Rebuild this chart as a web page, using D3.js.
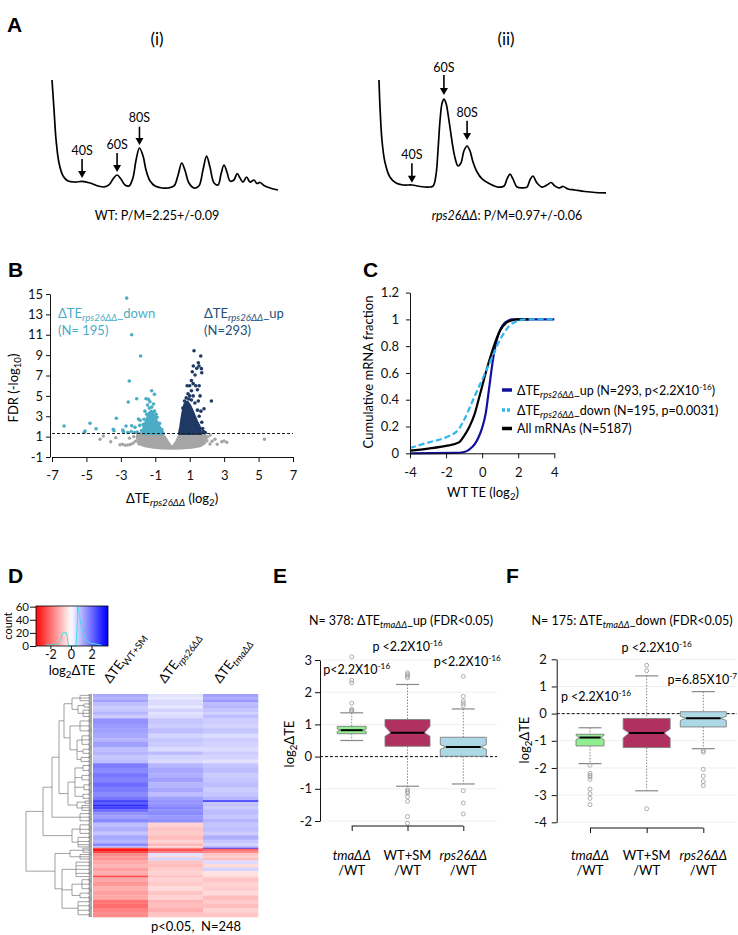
<!DOCTYPE html>
<html><head><meta charset="utf-8">
<script src="https://cdn.jsdelivr.net/npm/d3@7"></script>
<style>
html,body{margin:0;padding:0;background:#fff;}
svg{display:block;}
</style></head><body>
<svg id="fig" width="738" height="935"></svg>
<script>
// ================= DATA =================
// Panel A: polysome profiles (x = position in gradient 0-100, y = A254, arbitrary units)
const profileWT = [[0,100],[0.9,73.2],[1.8,46.4],[3.1,25.9],[4.9,14.3],[7.1,9.8],[10.2,8.9],[13.3,9.4],[16.8,8.0],[20.4,5.4],[23.0,4.5],[25.2,6.3],[27.0,11.6],[28.8,15.2],[30.5,11.6],[32.3,6.3],[34.1,5.4],[35.8,12.5],[37.2,28.6],[38.7,39.3],[40.3,32.1],[41.6,19.6],[43.4,9.8],[45.6,5.4],[48.7,3.6],[51.3,3.6],[54.0,5.4],[55.8,15.2],[57.4,25.9],[58.8,19.6],[60.6,8.0],[62.8,3.6],[65.0,5.4],[66.8,19.6],[68.4,32.1],[69.9,22.3],[71.7,8.0],[73.5,6.3],[74.8,16.1],[76.1,24.1],[77.4,17.9],[78.8,9.8],[80.5,10.7],[81.9,16.5],[83.2,12.5],[84.5,8.9],[86.1,13.4],[87.6,8.9],[89.4,10.7],[90.7,7.6],[92.0,8.5],[93.8,5.8],[96.5,3.6],[100,1.8]];
const profileRps26 = [[0,100],[0.4,78.1],[1.3,47.4],[2.6,28.1],[4.8,14.9],[7.5,9.6],[10.6,7.9],[14.5,7.9],[18.1,6.6],[21.6,6.1],[23.8,7.0],[25.1,16.7],[26.0,38.6],[26.9,64.9],[27.8,79.8],[28.6,83.3],[29.5,79.8],[30.8,64.9],[32.2,45.6],[33.5,31.6],[34.8,24.6],[36.1,27.2],[37.4,37.7],[38.8,42.1],[40.1,37.7],[41.4,28.1],[43.2,19.3],[45.4,13.2],[48.9,8.8],[52.4,6.1],[55.1,7.0],[56.4,13.2],[57.7,17.5],[59.0,13.2],[60.8,6.1],[63.0,5.3],[65.2,6.1],[66.5,12.3],[67.8,15.8],[69.6,9.6],[71.8,6.1],[74.0,7.9],[75.8,10.1],[77.5,7.0],[79.3,5.3],[81.1,6.6],[83.3,4.4],[86.3,3.5],[90.7,2.2],[95.2,1.3],[100,0.9]];
const peakLabels = ['40S','60S','80S'];
const peakPosWT = [13.3, 28.8, 38.7];
const peakArrowTailWT = [29.5, 34.8, 58.3];
const peakArrowTipWT = [12.5, 17.9, 42.0];
const peakLabelYWT = [33.0, 38.4, 62.8];
const peakPosRps26 = [14.5, 28.6, 38.8];
const peakArrowTailRps26 = [26.9, 104.4, 64.3];
const peakArrowTipRps26 = [9.9, 86.8, 47.4];
const peakLabelYRps26 = [30.4, 107.3, 67.3];

// Panel B: volcano plot (x = dTE log2, y = FDR -log10)
const volcanoGrayCloud = [[-2.0,1.3],[-0.62,1.3],[-0.48,1.0],[-0.33,0.6],[-0.18,0.2],[-0.04,-0.08],[0.1,0.15],[0.25,0.55],[0.38,1.0],[0.46,1.3],[1.85,1.3],[1.95,0.9],[1.85,0.35],[1.6,0.1],[1.1,-0.05],[0.5,-0.12],[0,-0.15],[-0.6,-0.12],[-1.1,-0.05],[-1.6,0.1],[-1.95,0.35],[-2.05,0.9]];
const volcanoDownCloud = [[-1.7,1.3],[-1.66,2.0],[-1.5,2.6],[-1.35,3.3],[-1.22,3.5],[-1.08,3.1],[-0.95,2.6],[-0.78,2.0],[-0.6,1.5],[-0.53,1.3]];
const volcanoUpCloud = [[0.4,1.3],[0.48,2.0],[0.55,2.8],[0.63,3.6],[0.72,4.2],[0.85,4.4],[0.98,4.1],[1.1,3.7],[1.25,3.1],[1.4,2.5],[1.55,2.0],[1.65,1.3]];
const volcanoGray = [[-4.21,0.74],[-4.02,1.06],[-3.59,0.50],[-3.05,0.2],[-2.9,0.25],[-2.75,0.15],[-2.6,0.18],[-2.45,0.22],[-2.3,0.35],[-2.15,0.55],[-2.5,0.85],[-2.25,1.0],[-3.3,0.9],[-2.0,1.15],[2.05,1.0],[2.0,0.6],[2.18,0.28],[2.3,0.55],[2.47,0.74],[2.6,0.25],[2.86,0.5],[2.99,0.58],[3.15,0.45],[5.34,0.74],[2.2,1.15],[-1.95,0.3]];
const volcanoDown = [[-6.30,2.04],[-4.79,2.31],[-5.08,1.55],[-5.12,1.42],[-4.44,1.78],[-3.26,2.80],[-3.44,1.72],[-3.40,1.58],[-2.89,1.65],[-2.85,1.50],[-2.70,2.04],[-2.37,2.07],[-2.51,6.46],[-2.57,4.40],[-2.08,4.72],[-1.85,8.91],[-1.54,4.72],[-1.40,4.66],[-1.21,5.51],[-1.05,5.15],[-1.31,4.43],[-1.98,2.73],[-1.88,2.60],[-2.18,1.91],[-2.20,1.40],[-2.05,1.45],[-2.37,11.0],[-2.66,14.6],[-1.9,2.1],[-1.8,1.6],[-1.65,2.7],[-1.5,3.2],[-1.35,3.8],[-1.2,3.9],[-1.05,3.5],[-0.9,2.9],[-0.75,2.3],[-0.62,1.7],[-1.45,4.1],[-1.1,4.2],[-1.6,3.5],[-0.95,3.2],[-2.4,1.5],[-2.6,1.4],[-1.7,2.2]];
const volcanoUp = [[0.8,4.8],[0.9,5.2],[1.0,5.0],[1.1,5.5],[0.85,6.0],[1.0,6.0],[1.2,6.2],[1.35,6.0],[1.1,6.5],[1.15,7.37],[1.31,7.05],[1.7,7.27],[1.21,7.93],[1.41,7.7],[1.5,8.25],[1.54,7.93],[1.68,7.67],[1.64,8.91],[1.25,9.43],[2.26,4.5],[1.83,3.74],[1.7,2.41],[1.75,1.8],[1.8,1.5],[1.9,1.4],[1.55,3.0],[1.45,3.6],[1.3,4.3],[1.5,4.5],[1.6,5.0],[1.2,5.0],[0.7,4.5],[0.6,3.8],[1.1,4.6],[0.95,4.7],[1.45,5.6],[1.55,6.0],[1.65,3.5],[1.4,1.9]];
const volcanoFdrCut = 1.3;
const volcanoXTicks = [-7,-5,-3,-1,1,3,5,7];
const volcanoYTicks = [-1,1,3,5,7,9,11,13,15];

// Panel C: cumulative distributions of WT TE (log2)
const cdfUpX = [-4,-1.5,-1,-0.7,-0.4,-0.2,0,0.2,0.4,0.6,0.8,1,1.3,1.7,4];
const cdfUpY = [0,0.003,0.01,0.03,0.07,0.12,0.19,0.3,0.5,0.7,0.84,0.92,0.98,1,1];
const cdfDownX = [-4,-3,-2,-1.3,-1,-0.5,0,0.5,1,1.5,2,2.5,4];
const cdfDownY = [0.04,0.08,0.12,0.18,0.25,0.4,0.55,0.7,0.85,0.95,0.99,1,1];
const cdfAllX = [-4,-3,-2,-1.3,-1,-0.7,-0.4,-0.2,0,0.3,0.6,1,1.3,1.7,2,2.6];
const cdfAllY = [0.02,0.035,0.055,0.08,0.13,0.2,0.3,0.4,0.5,0.65,0.78,0.92,0.97,0.995,1,1];
const cdfXTicks = [-4,-2,0,2,4];
const cdfYTicks = [0,0.2,0.4,0.6,0.8,1,1.2];

// Panel D: heatmap of log2 dTE (row blocks, top to bottom)
const heatCols = ['WT+SM','rps26ΔΔ','tmaΔΔ'];
const heatBandRows = [3,3,3, 4,3,4,3,4, 6,5,6,5,4,6,5,4,5,4, 5,6,5,5,6,5,5,4, 2,3,2,3,3, 4,4,4, 5,5,4,5,4,3,2, 1,3,2, 3,2,3, 4,4,4,5, 2, 5,5,5,5,5, 4,5,5,5];
const heatWTSM  = [1.2,1.0,1.3, 0.9,0.7,0.8,1.0,0.7, 1.5,1.4,1.3,1.2,1.0,1.3,0.9,1.0,0.8,0.9, 1.8,1.6,1.9,1.7,2.0,1.8,1.6,1.9, 2.6,2.2,2.9,2.6,2.0, 1.5,1.3,1.6, 0.9,1.1,0.8,1.2,1.0,1.6,0.9, -2.2,-3.2,-2.6, -1.6,-1.3,-1.5, -1.2,-1.0,-1.3,-1.1, -2.4, -1.2,-1.4,-1.1,-1.3,-1.2, -1.9,-2.0,-1.7,-1.6];
const heatRps26 = [0.4,0.3,0.5, 0.5,0.3,0.6,0.4,0.5, 0.8,0.7,0.9,0.6,0.8,0.7,0.5,0.9,0.6,0.5, 1.0,1.2,1.1,1.3,1.0,1.2,0.9,1.3, 1.5,1.4,1.6,1.7,1.5, 1.6,1.4,1.5, -0.6,-0.8,-0.7,-0.9,-0.6,-1.0,-0.5, -1.5,-2.3,-1.8, 0.4,-0.5,0.6, -0.8,-0.9,-0.7,-0.6, -0.9, -0.6,-0.7,-0.5,-0.8,-0.6, -1.0,-0.9,-1.1,-0.8];
const heatTma   = [1.3,1.1,1.4, 0.9,1.0,0.8,0.6,0.9, 0.7,0.6,0.8,0.5,0.7,0.6,0.5,0.7,0.6,0.4, 0.8,0.9,0.7,0.8,0.9,0.7,0.8,1.0, 2.5,0.8,0.9,0.7,0.9, 0.9,0.8,1.0, 0.8,0.9,0.7,1.1,0.8,0.6,0.9, 2.8,-2.0,-1.6, -0.8,-0.6,-0.9, 0.5,-0.5,0.6,-0.4, -0.5, -0.8,-0.6,-0.7,-0.5,-0.9, -0.7,-0.9,-0.6,-0.8];
// row dendrogram: [mergeHeight, children...]; leaves are row-block indices
const heatDendro = [66,
  [49,
    [40,
      [33,
        [28, [20, [12,0,1,2], [14,[8,3,4],[9,5,6,7]]], [22, [12,8,9,10], [15,[10,11,12,13],[9,14,15],[11,16,17]]]],
        [24, [17,[9,18,19],[10,20,21],[8,22,23],[9,24,25]], [15,[7,26,27],[10,28,29,30]]]
      ],
      [12,31,32,33]
    ],
    [20, [12,34,35,36], [14,37,38,39,40]]
  ],
  [37,
    [22, [9,41,42,43], [12,44,45,46]],
    [30, [16,47,48,49,50,51], [20,[10,52,53,54],[12,55,56]], [14,57,58,59,60]]
  ]
];
const keyHistX = [-2.5,-2.37,-2.0,-1.6,-1.23,-1.0,-0.85,-0.74,-0.55,-0.42,-0.3,-0.26,0.49,0.6,0.65,0.75,0.88,1.05,1.2,1.4,1.59,2.0,2.4,2.82,2.98];
const keyHistCount = [0,2,1.5,2.5,3,8,18,21,20,20,5,0,0,30,60,55,40,28,20,12,7,4,3,2,0];
const keyXTicks = [-2,0,2];
const keyYTicks = [0,20,40,60];

// Panels E and F: boxplots of log2 dTE
const boxGroups = ['tmaΔΔ','WT+SM','rps26ΔΔ'];
const eQ1 = [0.71,0.32,0.01], eMed = [0.82,0.74,0.30], eQ3 = [0.94,1.15,0.60];
const eLo = [0.50,-0.92,-0.85], eHi = [1.36,2.24,1.48];
const eNotchLo = [0.78,0.63,0.23], eNotchHi = [0.86,0.94,0.37];
const eOut = [[1.40,1.43,1.47,1.66,2.29,2.37,3.1],[2.45,2.5,2.55,2.6,-1.03,-1.08,-1.13,-1.24,-1.39,-1.86,-2.07],[1.58,1.65,1.72,1.87,2.49,-1.06,-1.44,-1.78]];
const ePLabel = ['p<2.2X10','p <2.2X10','p<2.2X10'], ePExp = ['-16','-16','-16'], ePLabelY = [2.57,3.29,2.81];
const eYTicks = [-2,-1,0,1,2,3];
const fQ1 = [-1.19,-1.25,-0.49], fMed = [-0.88,-0.71,-0.17], fQ3 = [-0.76,-0.18,0.07];
const fLo = [-1.84,-2.84,-1.29], fHi = [-0.52,1.39,0.81];
const fNotchLo = [-0.96,-0.9,-0.25], fNotchHi = [-0.80,-0.57,-0.10];
const fOut = [[-1.9,-2.2,-2.27,-2.33,-2.42,-2.78,-2.95,-3.12,-3.35],[1.58,1.78,-3.5],[-1.36,-1.42,-2.05,-2.3,-2.5,-2.65]];
const fPLabel = ['p <2.2X10','p <2.2X10','p=6.85X10'], fPExp = ['-16','-16','-7'], fPLabelY = [0.47,2.28,1.10];
const fYTicks = [-4,-3,-2,-1,0,1,2];

// ================= DRAWING =================
const FONT = "Lato, 'Open Sans', 'DejaVu Sans', sans-serif";
const svg = d3.select('#fig').attr('font-family', FONT);
svg.append('rect').attr('width',738).attr('height',935).attr('fill','#fff');
const fmt = d => d3.format('~g')(d).replace('\u2212', '-');

// rich text on one line; parts are strings or [text, style]
function rich(parent, parts, size, attrs) {
  const t = parent.append('text').attr('font-size', size);
  Object.entries(attrs || {}).forEach(([k, v]) => t.attr(k, v));
  let cur = 0;
  parts.forEach(p => {
    const s = Array.isArray(p) ? p[0] : p;
    const st = Array.isArray(p) ? (p[1] || '') : '';
    const ts = t.append('tspan').text(s);
    let off = 0;
    if (st.includes('sub')) { off = size * 0.25; ts.attr('font-size', size * 0.74); }
    else if (st.includes('sup')) { off = -size * 0.38; ts.attr('font-size', size * 0.66); }
    if (st.includes('it')) ts.attr('font-style', 'italic');
    if (off - cur !== 0) ts.attr('dy', off - cur);
    cur = off;
  });
  return t;
}
function panelLetter(x, y, s) {
  svg.append('text').attr('x', x).attr('y', y).attr('font-size', 21).attr('font-weight', 'bold')
    .attr('font-family', "'Liberation Sans', Arial, sans-serif").text(s);
}
function styleAxis(g, size) {
  g.selectAll('text').attr('font-size', size).attr('font-family', FONT).attr('fill', '#111');
  g.selectAll('line').attr('stroke', '#111');
  g.select('.domain').attr('stroke', '#111');
}

// ---------- Panel A ----------
panelLetter(7, 32, 'A');
function drawProfile(data, xr, yr, pos, tail, tip, labY) {
  const x = d3.scaleLinear([0, 100], xr), y = d3.scaleLinear([0, 100], yr);
  svg.append('path').datum(data)
    .attr('d', d3.line().x(d => x(d[0])).y(d => y(d[1])).curve(d3.curveCatmullRom.alpha(0.5)))
    .attr('fill', 'none').attr('stroke', '#000').attr('stroke-width', 1.7);
  peakLabels.forEach((lab, i) => {
    const px = x(pos[i]), yt = y(tail[i]), yp = y(tip[i]);
    svg.append('line').attr('x1', px).attr('x2', px).attr('y1', yt).attr('y2', yp - 6)
      .attr('stroke', '#000').attr('stroke-width', 1.6);
    svg.append('path').attr('d', `M${px - 4},${yp - 7}L${px + 4},${yp - 7}L${px},${yp}Z`).attr('fill', '#000');
    svg.append('text').attr('x', px).attr('y', y(labY[i])).attr('text-anchor', 'middle')
      .attr('font-size', 12.5).text(lab);
  });
}
drawProfile(profileWT, [52, 278], [192, 80], peakPosWT, peakArrowTailWT, peakArrowTipWT, peakLabelYWT);
drawProfile(profileRps26, [379, 606], [194, 80], peakPosRps26, peakArrowTailRps26, peakArrowTipRps26, peakLabelYRps26);
svg.append('text').attr('x', 157).attr('y', 45).attr('text-anchor', 'middle').attr('font-size', 17).text('(i)');
svg.append('text').attr('x', 506).attr('y', 45).attr('text-anchor', 'middle').attr('font-size', 17).text('(ii)');
rich(svg, ['WT: P/M=2.25+/-0.09'], 12.5, {x: 157, y: 220, 'text-anchor': 'middle'});
rich(svg, [['rps26ΔΔ', 'it'], ': P/M=0.97+/-0.06'], 12.5, {x: 507, y: 220, 'text-anchor': 'middle'});

// ---------- Panel B ----------
panelLetter(8, 277, 'B');
{
  const x = d3.scaleLinear([-7, 7], [52, 293]);
  const y = d3.scaleLinear([-1, 15], [457, 294]);
  const gray = '#a5a5a5', teal = '#4bacc6', navy = '#1f3864';
  const poly = d3.line().x(d => x(d[0])).y(d => y(d[1])).curve(d3.curveLinearClosed);
  svg.append('path').datum(volcanoGrayCloud).attr('d', poly).attr('fill', gray).attr('stroke', gray).attr('stroke-width', 3).attr('stroke-linejoin', 'round');
  svg.append('g').selectAll('circle').data(volcanoGray).join('circle')
    .attr('cx', d => x(d[0])).attr('cy', d => y(d[1])).attr('r', 1.7).attr('fill', gray);
  svg.append('path').datum(volcanoDownCloud).attr('d', poly).attr('fill', teal).attr('stroke', teal).attr('stroke-width', 3).attr('stroke-linejoin', 'round');
  svg.append('path').datum(volcanoUpCloud).attr('d', poly).attr('fill', navy).attr('stroke', navy).attr('stroke-width', 3).attr('stroke-linejoin', 'round');
  svg.append('g').selectAll('circle').data(volcanoDown).join('circle')
    .attr('cx', d => x(d[0])).attr('cy', d => y(d[1])).attr('r', 1.8).attr('fill', teal);
  svg.append('g').selectAll('circle').data(volcanoUp).join('circle')
    .attr('cx', d => x(d[0])).attr('cy', d => y(d[1])).attr('r', 1.8).attr('fill', navy);
  svg.append('line').attr('x1', x(-7)).attr('x2', x(7)).attr('y1', y(volcanoFdrCut)).attr('y2', y(volcanoFdrCut))
    .attr('stroke', '#222').attr('stroke-width', 1.1).attr('stroke-dasharray', '3,2');
  const gx = svg.append('g').attr('transform', `translate(0,${y(-1)})`)
    .call(d3.axisBottom(x).tickValues(volcanoXTicks).tickSize(5).tickSizeOuter(0).tickPadding(9).tickFormat(fmt));
  styleAxis(gx, 13);
  const gy = svg.append('g').attr('transform', `translate(${x(-7) - 2},0)`)
    .call(d3.axisLeft(y).tickValues(volcanoYTicks).tickSize(4).tickSizeOuter(0).tickPadding(3).tickFormat(fmt));
  styleAxis(gy, 13);
  rich(svg, ['ΔTE', ['rps26ΔΔ', 'subit'], '_down'], 13, {x: 58, y: 318, fill: teal});
  rich(svg, ['(N= 195)'], 13, {x: 58, y: 335, fill: teal});
  rich(svg, ['ΔTE', ['rps26ΔΔ', 'subit'], '_up'], 13, {x: 204, y: 318, fill: '#1f4e79'});
  rich(svg, ['(N=293)'], 13, {x: 204, y: 335, fill: '#1f4e79'});
  rich(svg, ['ΔTE', ['rps26ΔΔ', 'subit'], ' (log', ['2', 'sub'], ')'], 13, {x: 172, y: 503, 'text-anchor': 'middle'});
  rich(svg, ['FDR (-log', ['10', 'sub'], ')'], 13, {transform: 'translate(18,388) rotate(-90)', 'text-anchor': 'middle'});
}

// ---------- Panel C ----------
panelLetter(363, 277, 'C');
{
  const x = d3.scaleLinear([-4, 4], [410, 554.3]);
  const y = d3.scaleLinear([0, 1.2], [453.3, 292.6]);
  const ln = d3.line().x(d => x(d[0])).y(d => y(d[1])).curve(d3.curveMonotoneX);
  const up = cdfUpX.map((v, i) => [v, cdfUpY[i]]);
  const dn = cdfDownX.map((v, i) => [v, cdfDownY[i]]);
  const al = cdfAllX.map((v, i) => [v, cdfAllY[i]]);
  const navy = '#10109c', lb = '#2fb5f0';
  svg.append('path').datum(up).attr('d', ln).attr('fill', 'none').attr('stroke', navy).attr('stroke-width', 2.2);
  svg.append('path').datum(al).attr('d', ln).attr('fill', 'none').attr('stroke', '#000').attr('stroke-width', 2.2);
  svg.append('path').datum(dn).attr('d', ln).attr('fill', 'none').attr('stroke', lb).attr('stroke-width', 2.2).attr('stroke-dasharray', '6,3');
  const gx = svg.append('g').attr('transform', `translate(0,${y(0)})`)
    .call(d3.axisBottom(x).tickValues(cdfXTicks).tickSize(5).tickSizeOuter(0).tickPadding(9).tickFormat(fmt));
  styleAxis(gx, 13);
  const gy = svg.append('g').attr('transform', `translate(${x(-4)},0)`)
    .call(d3.axisLeft(y).tickValues(cdfYTicks).tickSize(4).tickSizeOuter(0).tickPadding(7).tickFormat(fmt));
  styleAxis(gy, 13);
  rich(svg, ['WT TE (log', ['2', 'sub'], ')'], 13, {x: 483, y: 497, 'text-anchor': 'middle'});
  svg.append('text').attr('transform', 'translate(373,372) rotate(-90)').attr('text-anchor', 'middle')
    .attr('font-size', 13).text('Cumulative mRNA fraction');
  const legColor = [navy, lb, '#000'], legDash = [null, '3,2', null];
  const legParts = [
    ['ΔTE', ['rps26ΔΔ', 'subit'], '_up (N=293, p<2.2X10', ['-16', 'sup'], ')'],
    ['ΔTE', ['rps26ΔΔ', 'subit'], '_down (N=195, p=0.0031)'],
    ['All mRNAs (N=5187)']
  ];
  const ly = [390, 410, 428.5];
  legParts.forEach((parts, i) => {
    svg.append('line').attr('x1', 502).attr('x2', 512).attr('y1', ly[i]).attr('y2', ly[i])
      .attr('stroke', legColor[i]).attr('stroke-width', 3.5).attr('stroke-dasharray', legDash[i]);
    rich(svg, parts, 12.5, {x: 517, y: ly[i] + 4.5});
  });
}

// ---------- Panel D ----------
panelLetter(8, 583, 'D');
{
  const color = d3.scaleLinear().domain([-3.5, 0, 3.5]).range(['#ff0000', '#ffffff', '#0000ff']).clamp(true);
  // color key
  const kx = d3.scaleLinear([-3.4, 3.6], [36, 108]);
  const ky = d3.scaleLinear([0, 61], [646, 606]);
  const defs = svg.append('defs');
  const grad = defs.append('linearGradient').attr('id', 'keygrad').attr('x1', 0).attr('x2', 1).attr('y1', 0).attr('y2', 0);
  d3.range(0, 1.0001, 0.05).forEach(t => {
    grad.append('stop').attr('offset', t).attr('stop-color', color(kx.invert(36 + t * 72)));
  });
  svg.append('rect').attr('x', 36).attr('y', 606).attr('width', 72).attr('height', 40).attr('fill', 'url(#keygrad)');
  svg.append('path').datum(keyHistX.map((v, i) => [v, keyHistCount[i]]))
    .attr('d', d3.line().x(d => kx(d[0])).y(d => ky(d[1])))
    .attr('fill', 'none').attr('stroke', '#3de0e8').attr('stroke-width', 1);
  svg.append('rect').attr('x', 36).attr('y', 606).attr('width', 72).attr('height', 40).attr('fill', 'none').attr('stroke', '#000').attr('stroke-width', 0.8);
  const kgx = svg.append('g').attr('transform', 'translate(0,646)')
    .call(d3.axisBottom(kx).tickValues(keyXTicks).tickSize(3).tickSizeOuter(0).tickPadding(1).tickFormat(fmt));
  styleAxis(kgx, 12.5); kgx.select('.domain').remove();
  const kgy = svg.append('g').attr('transform', 'translate(36,0)')
    .call(d3.axisLeft(ky).tickValues(keyYTicks).tickSize(6).tickSizeOuter(0).tickPadding(1).tickFormat(fmt));
  styleAxis(kgy, 11.5); kgy.select('.domain').remove();
  svg.append('text').attr('transform', 'translate(11.5,626) rotate(-90)').attr('text-anchor', 'middle').attr('font-size', 11).text('count');
  rich(svg, ['log', ['2', 'sub'], 'ΔTE'], 13, {x: 72, y: 675, 'text-anchor': 'middle'});

  // heatmap
  const nRows = d3.sum(heatBandRows);
  const rowY = d3.scaleLinear([0, nRows], [694, 917]);
  const colX = d3.scaleBand(heatCols, [93, 258]);
  const starts = []; let acc = 0;
  heatBandRows.forEach(n => { starts.push(acc); acc += n; });
  const colVals = [heatWTSM, heatRps26, heatTma];
  const hg = svg.append('g');
  heatCols.forEach((c, ci) => {
    hg.selectAll(null).data(heatBandRows).join('rect')
      .attr('x', colX(c)).attr('width', colX.bandwidth() + 0.3)
      .attr('y', (d, i) => rowY(starts[i])).attr('height', d => rowY(d) - rowY(0) + 0.3)
      .attr('fill', (d, i) => color(colVals[ci][i]));
  });
  // column labels
  const colParts = [['ΔTE', ['WT+SM', 'sub']], ['ΔTE', ['rps26ΔΔ', 'subit']], ['ΔTE', ['tmaΔΔ', 'subit']]];
  heatCols.forEach((c, ci) => {
    const cx = colX(c) + colX.bandwidth() / 2 - 10.5;
    rich(svg, colParts[ci], 13, {transform: `translate(${cx},684) rotate(-53)`});
  });
  // dendrogram
  const hx = d3.scaleLinear([0, 66], [92, 26]);
  const dg = svg.append('g').attr('stroke', '#7a7a7a').attr('stroke-width', 0.7).attr('fill', 'none');
  const seg = (x1, y1, x2, y2) => dg.append('line').attr('x1', x1).attr('y1', y1).attr('x2', x2).attr('y2', y2);
  const combH = 3;
  function drawNode(node) {
    if (typeof node === 'number') {
      const s = starts[node], n = heatBandRows[node];
      const ys = d3.range(n).map(i => rowY(s + i + 0.5));
      const xj = hx(combH);
      ys.forEach(yy => seg(hx(0), yy, xj, yy));
      if (n > 1) seg(xj, ys[0], xj, ys[n - 1]);
      return {x: xj, y: (ys[0] + ys[n - 1]) / 2};
    }
    const kids = node.slice(1).map(drawNode);
    const xn = hx(node[0]);
    kids.forEach(k => seg(k.x, k.y, xn, k.y));
    seg(xn, kids[0].y, xn, kids[kids.length - 1].y);
    return {x: xn, y: (kids[0].y + kids[kids.length - 1].y) / 2};
  }
  drawNode(heatDendro);
  svg.append('text').attr('x', 196).attr('y', 931).attr('text-anchor', 'middle').attr('font-size', 13)
    .attr('xml:space', 'preserve').text('p<0.05,  N=248');
}

// ---------- Panels E & F ----------
const boxFill = ['#90ee90', '#b03060', '#add8e6'];
const boxWidths = [[29, 45, 46], [28, 47, 46]];
const pLabelDx = [[5, 0, 4], [6, 10, -1]];
function boxPanel(o) {
  const y = d3.scaleLinear(o.dom, o.yr);
  const x = d3.scalePoint(boxGroups, o.xr);
  const g = svg.append('g');
  o.ticks.forEach(t => g.append('line').attr('x1', o.axisX).attr('x2', o.lineEnd).attr('y1', y(t)).attr('y2', y(t)).attr('stroke', '#f0f0f0'));
  g.append('line').attr('x1', o.axisX).attr('x2', o.lineEnd).attr('y1', y(0)).attr('y2', y(0))
    .attr('stroke', '#111').attr('stroke-width', 1).attr('stroke-dasharray', '3,2');
  boxGroups.forEach((grp, i) => {
    const cx = x(grp), w = o.widths[i] / 2, k = 0.75, cap = 11.5;
    g.append('line').attr('x1', cx).attr('x2', cx).attr('y1', y(o.hi[i])).attr('y2', y(o.q3[i])).attr('stroke', '#888').attr('stroke-dasharray', '1.5,1.5');
    g.append('line').attr('x1', cx).attr('x2', cx).attr('y1', y(o.q1[i])).attr('y2', y(o.lo[i])).attr('stroke', '#888').attr('stroke-dasharray', '1.5,1.5');
    [o.hi[i], o.lo[i]].forEach(v => g.append('line').attr('x1', cx - cap).attr('x2', cx + cap).attr('y1', y(v)).attr('y2', y(v)).attr('stroke', '#888').attr('stroke-width', 1.2));
    const p = d3.path();
    p.moveTo(cx - w, y(o.q3[i])); p.lineTo(cx + w, y(o.q3[i])); p.lineTo(cx + w, y(o.nhi[i]));
    p.lineTo(cx + w * k, y(o.med[i])); p.lineTo(cx + w, y(o.nlo[i])); p.lineTo(cx + w, y(o.q1[i]));
    p.lineTo(cx - w, y(o.q1[i])); p.lineTo(cx - w, y(o.nlo[i])); p.lineTo(cx - w * k, y(o.med[i]));
    p.lineTo(cx - w, y(o.nhi[i])); p.closePath();
    g.append('path').attr('d', p.toString()).attr('fill', boxFill[i]).attr('stroke', '#808080').attr('stroke-width', 0.9);
    g.append('line').attr('x1', cx - w * k).attr('x2', cx + w * k).attr('y1', y(o.med[i])).attr('y2', y(o.med[i])).attr('stroke', '#000').attr('stroke-width', 2);
    g.selectAll(null).data(o.out[i]).join('circle').attr('cx', cx).attr('cy', d => y(d)).attr('r', 2)
      .attr('fill', 'none').attr('stroke', '#999').attr('stroke-width', 0.8);
    rich(svg, [o.pl[i], [o.pe[i], 'sup']], 12.5, {x: cx + o.pdx[i], y: y(o.py[i]), 'text-anchor': 'middle'});
    const it = grp !== 'WT+SM';
    svg.append('text').attr('x', cx).attr('y', 860).attr('text-anchor', 'middle').attr('font-size', 13)
      .attr('font-style', it ? 'italic' : 'normal').text(grp);
    svg.append('text').attr('x', cx).attr('y', 875).attr('text-anchor', 'middle').attr('font-size', 13).text('/WT');
  });
  const ga = svg.append('g').attr('transform', `translate(${o.axisX},0)`)
    .call(d3.axisLeft(y).tickValues(o.ticks).tickSize(5).tickSizeOuter(0).tickPadding(o.pad).tickFormat(fmt));
  styleAxis(ga, 13);
  const gb = svg.append('g').attr('transform', `translate(0,${o.brY})`)
    .call(d3.axisBottom(x).tickSize(5).tickSizeOuter(0).tickFormat(''));
  gb.select('.domain').attr('d', `M${o.xr[0]},0H${o.xr[1]}`).attr('stroke', '#111');
  gb.selectAll('line').attr('stroke', '#111');
  rich(svg, ['log', ['2', 'sub'], 'ΔTE'], 13, {transform: `translate(${o.labX},${o.labY}) rotate(-90)`, 'text-anchor': 'middle'});
  rich(svg, o.title, 12.5, {x: o.titleX, y: 625, 'text-anchor': 'middle'});
}
panelLetter(273, 583, 'E');
boxPanel({dom: [-2, 3], yr: [821, 660], xr: [351.7, 463.3], axisX: 320, lineEnd: 497, ticks: eYTicks, pad: 3,
  q1: eQ1, med: eMed, q3: eQ3, lo: eLo, hi: eHi, nlo: eNotchLo, nhi: eNotchHi, out: eOut, widths: boxWidths[0],
  pl: ePLabel, pe: ePExp, py: ePLabelY, pdx: pLabelDx[0], brY: 826, labX: 294, labY: 744, titleX: 401,
  title: ['N= 378: ΔTE', ['tmaΔΔ', 'subit'], '_up (FDR<0.05)']});
panelLetter(506, 583, 'F');
boxPanel({dom: [-4, 2], yr: [822.3, 659.3], xr: [590, 703.3], axisX: 556.7, lineEnd: 737, ticks: fYTicks, pad: 5,
  q1: fQ1, med: fMed, q3: fQ3, lo: fLo, hi: fHi, nlo: fNotchLo, nhi: fNotchHi, out: fOut, widths: boxWidths[1],
  pl: fPLabel, pe: fPExp, py: fPLabelY, pdx: pLabelDx[1], brY: 828, labX: 529, labY: 740, titleX: 632,
  title: ['N= 175: ΔTE', ['tmaΔΔ', 'subit'], '_down (FDR<0.05)']});
</script>
</body></html>
